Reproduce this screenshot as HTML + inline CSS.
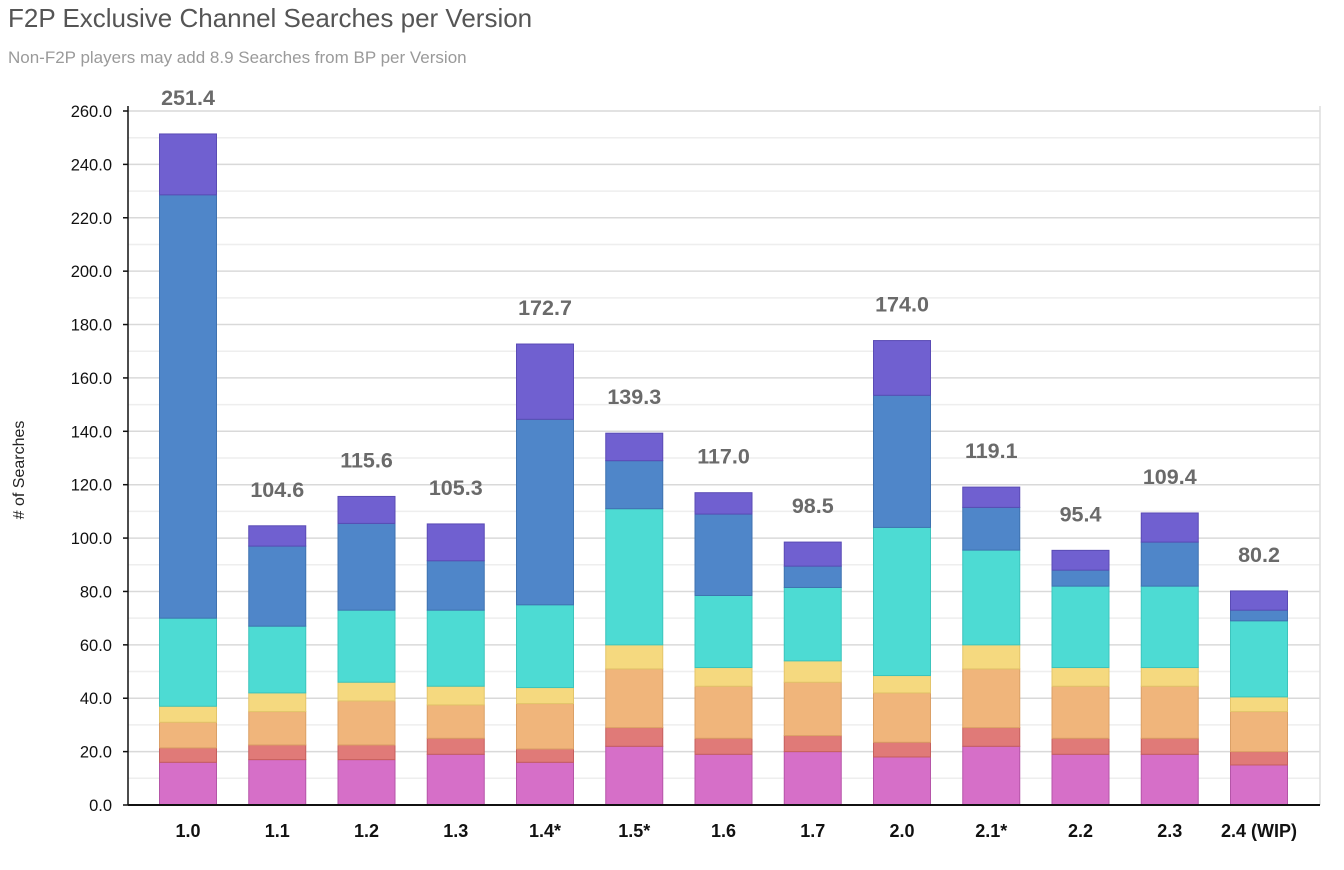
<!DOCTYPE html>
<html><head><meta charset="utf-8"><style>
body{margin:0;background:#fff;font-family:"Liberation Sans",sans-serif}
</style></head><body>
<svg id="c" width="1344" height="865" xmlns="http://www.w3.org/2000/svg">
<text x="8" y="27" font-size="26" fill="#555">F2P Exclusive Channel Searches per Version</text>
<text x="8" y="63" font-size="17" fill="#9a9a9a">Non-F2P players may add 8.9 Searches from BP per Version</text>
<text transform="translate(24,470) rotate(-90)" text-anchor="middle" font-size="16" fill="#222"># of Searches</text>
<g id="grid"></g><g id="bars"></g><g id="labels"></g>
</svg>
<script>
const categories=["1.0","1.1","1.2","1.3","1.4*","1.5*","1.6","1.7","2.0","2.1*","2.2","2.3","2.4 (WIP)"];
const pink=[16,17,17,19,16,22,19,20,18,22,19,19,15];
const red=[5.4,5.5,5.5,6,5,7,6,6,5.5,7,6,6,5];
const orange=[9.6,12.5,16.5,12.5,17,22,19.5,20,18.5,22,19.5,19.5,15];
const yellow=[6,7,7,7,6,9,7,8,6.5,9,7,7,5.5];
const teal=[33,25,27,28.5,31,51,27,27.5,55.5,35.5,30.5,30.5,28.5];
const blue=[158.6,30,32.5,18.5,69.5,18,30.5,8,49.5,16,6,16.5,4];
const purple=[22.8,7.6,10.1,13.8,28.2,10.3,8,9,20.5,7.6,7.4,10.9,7.2];
const totals=["251.4","104.6","115.6","105.3","172.7","139.3","117.0","98.5","174.0","119.1","95.4","109.4","80.2"];
const yTicks=["0.0","20.0","40.0","60.0","80.0","100.0","120.0","140.0","160.0","180.0","200.0","220.0","240.0","260.0"];
const series=[pink,red,orange,yellow,teal,blue,purple];
const colors=["#d66fc8","#e07a78","#f0b57b","#f5d97f","#4ddbd3","#4f86c9","#7060d0"];
const strokes=["#b555a8","#c65f5d","#dba066","#e3c56a","#3cc4bc","#3f72b0","#5a4bb5"];
const names=["pink","red","orange","yellow","teal","blue","purple"];
const NS="http://www.w3.org/2000/svg";
const x0=128,x1=1320,y0=805,yMax=260,yTop=111;
const y=v=>y0-(v/yMax)*(y0-yTop);
const step=(1259-188)/12;
const xc=i=>188+i*step;
const bw=57;
function mk(t,a,p){const e=document.createElementNS(NS,t);for(const k in a)e.setAttribute(k,a[k]);p.appendChild(e);return e;}
const g=document.getElementById('grid');
for(let v=10;v<=260;v+=10){const l=mk('line',{x1:x0,x2:x1,y1:y(v),y2:y(v),stroke:v%20?'#eeeeee':'#d9d9d9','stroke-width':1.5},g);

}
yTicks.forEach(t=>{const v=parseFloat(t);
const tk=mk('line',{x1:x0-5,x2:x0,y1:y(v),y2:y(v),stroke:'#111','stroke-width':1.5},g);


const tx=mk('text',{x:x0-16,y:y(v)+6,'text-anchor':'end','font-size':16.5,fill:'#111'},g);tx.textContent=t;

});
const ax=mk('line',{x1:x0,x2:x0,y1:y0,y2:yTop-5,stroke:'#111','stroke-width':1.5},g);


const rb=mk('line',{x1:x1,x2:x1,y1:y0,y2:yTop-5,stroke:'#ddd','stroke-width':1.5},g);


const b=document.getElementById('bars'),L=document.getElementById('labels');
categories.forEach((c,i)=>{let cum=0;
series.forEach((s,k)=>{const v=s[i];const r=mk('rect',{x:xc(i)-bw/2,y:y(cum+v),width:bw,height:y(cum)-y(cum+v),fill:colors[k],stroke:strokes[k],'stroke-width':1},b);


cum+=v;});
const t=mk('text',{x:xc(i),y:y(cum)-29,'text-anchor':'middle','font-size':21.5,'font-weight':'bold',fill:'#6a6a6a'},L);t.textContent=totals[i];


const xl=mk('text',{x:xc(i),y:837,'text-anchor':'middle','font-size':18,'font-weight':'bold',fill:'#111'},L);xl.textContent=c;

});
const bl=mk('line',{x1:x0,x2:x1,y1:y0,y2:y0,stroke:'#111','stroke-width':2},L);


</script>
</body></html>
